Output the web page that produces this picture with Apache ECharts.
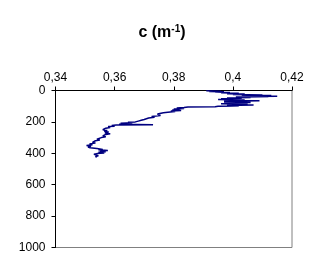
<!DOCTYPE html>
<html><head><meta charset="utf-8">
<script src="https://cdn.jsdelivr.net/npm/echarts@6/dist/echarts.min.js"></script>
<style>html,body{margin:0;padding:0;background:#fff}#c{width:321px;height:273px}</style>
</head><body><div id="c"></div>
<script>
var xTicks = [0.34, 0.36, 0.38, 0.40, 0.42];
var yTicks = [0, 200, 400, 600, 800, 1000];
var depth = [2,4,6,8,10,13,15,18,20,23,25,28,30,32,34,36,38,40,42,45,48,50,53,55,58,60,63,66,68,71,73,76,78,81,84,87,89,92,95,98,100,103,105,109,112,115,118,121,124,128,131,134,138,142,146,150,155,160,165,170,175,180,185,190,195,200,203,206,209,212,215,218,220,223,227,230,235,240,245,250,255,260,265,270,275,280,285,290,295,300,305,310,315,320,325,330,335,340,345,350,355,360,365,370,375,378,382,386,390,394,398,402,406,410,415,420,424];
var cval = [0.391,0.396,0.392,0.397,0.394,0.399,0.396,0.402,0.398,0.404,0.400,0.410,0.403,0.413,0.404,0.415,0.405,0.412,0.401,0.406,0.398,0.403,0.396,0.402,0.395,0.404,0.397,0.409,0.399,0.403,0.397,0.406,0.398,0.402,0.396,0.405,0.399,0.407,0.398,0.402,0.395,0.394,0.3848,0.3835,0.381,0.3835,0.380,0.382,0.3795,0.3825,0.3790,0.3805,0.3780,0.3765,0.3770,0.3745,0.3740,0.3755,0.3725,0.3735,0.3715,0.3710,0.3700,0.3690,0.3680,0.3670,0.3645,0.3660,0.3620,0.3655,0.3615,0.3730,0.3605,0.3590,0.3600,0.3578,0.3585,0.3570,0.3575,0.3560,0.3575,0.3565,0.3580,0.3567,0.3585,0.3570,0.3575,0.3560,0.3570,0.3555,0.3560,0.3540,0.3550,0.3535,0.3540,0.3525,0.3535,0.3515,0.3525,0.3505,0.3520,0.3510,0.3517,0.3540,0.3560,0.3545,0.3577,0.3550,0.3570,0.3545,0.3565,0.3540,0.3530,0.3527,0.3545,0.3535,0.3540];
var data = depth.map(function(d,i){return [cval[i], d];});
var chart = echarts.init(document.getElementById('c'));
chart.setOption({
  animation:false,
  title:{text:'{a|c (m}{s|-1}{a|)}', left:157, textAlign:'center', top:19,
    textStyle:{rich:{a:{fontFamily:'Liberation Sans, Arial',fontWeight:'bold',fontSize:16,color:'#000'},
      s:{fontFamily:'Liberation Sans, Arial',fontWeight:'bold',fontSize:10,color:'#000',verticalAlign:'top',padding:[0,0,8,0]}}}},
  grid:{left:55.5,right:29,top:90.5,bottom:25.5,show:true,borderColor:'#808080',borderWidth:1},
  xAxis:{type:'value',position:'top',min:xTicks[0],max:xTicks[xTicks.length-1],interval:0.02,
    axisLine:{lineStyle:{color:'#000',width:1}},axisTick:{inside:false,length:4,lineStyle:{color:'#000'}},
    splitLine:{show:false},
    axisLabel:{margin:7,color:'#000',fontFamily:'Liberation Sans, Arial',fontSize:12,
      formatter:function(v){return String(Math.round(v*100)/100).replace('.',',');}}},
  yAxis:{type:'value',inverse:true,min:yTicks[0],max:yTicks[yTicks.length-1],interval:200,
    axisLine:{show:true,lineStyle:{color:'#000',width:1}},axisTick:{show:true,length:4,lineStyle:{color:'#000'}},
    splitLine:{show:false},
    axisLabel:{margin:10,color:'#000',fontFamily:'Liberation Sans, Arial',fontSize:12,
      formatter:function(v){return String(v);}}},
  series:[{type:'line',data:data,showSymbol:false,lineStyle:{color:'#000080',width:1.5},itemStyle:{color:'#000080'}}]
});
</script></body></html>
